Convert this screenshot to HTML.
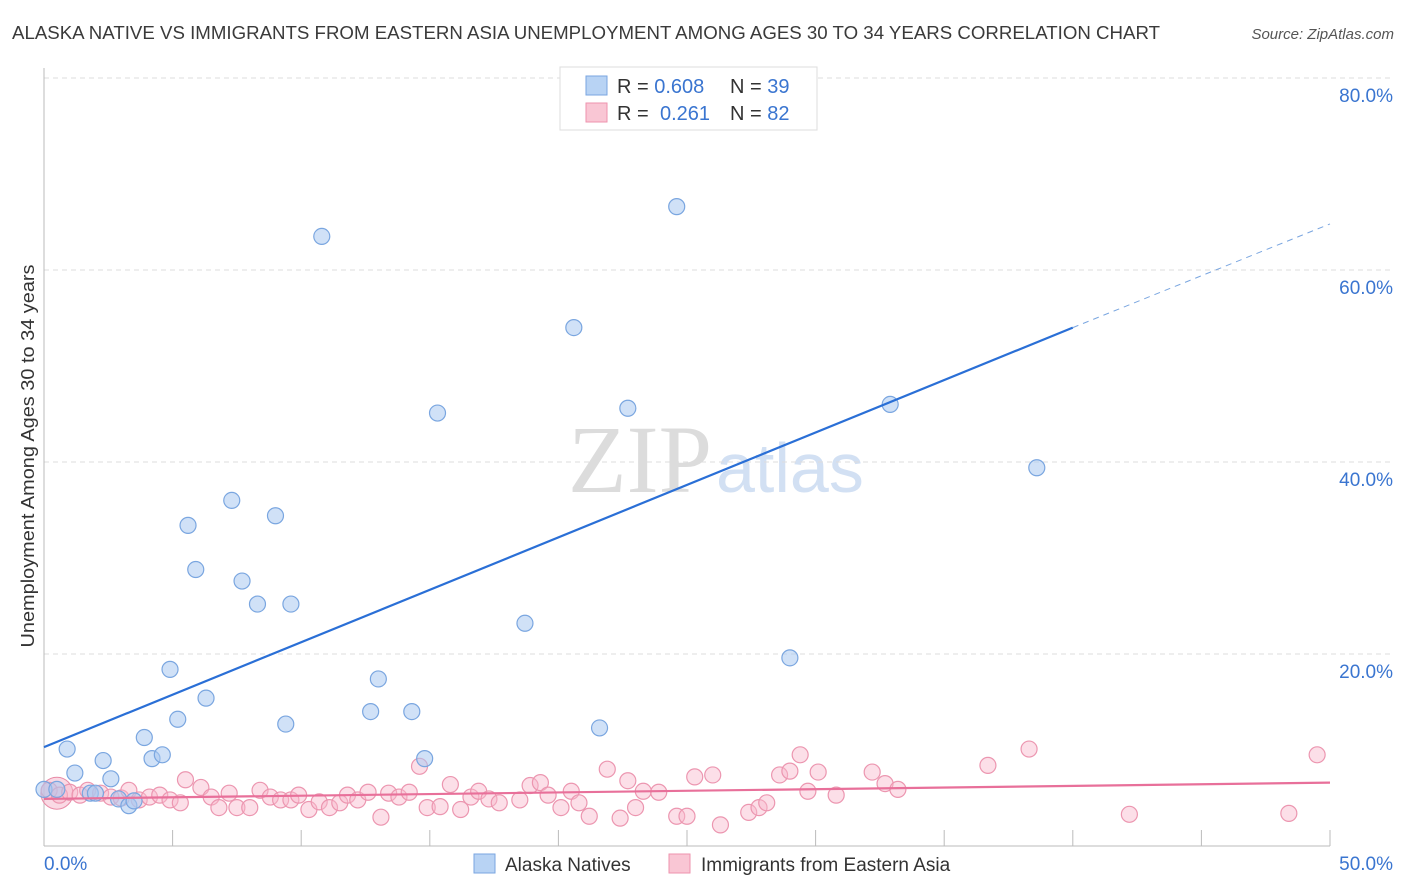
<!DOCTYPE html>
<html><head><meta charset="utf-8"><style>
body{margin:0;background:#fff;font-family:"Liberation Sans",sans-serif;}
svg{display:block}
</style></head><body>
<svg id="chart" width="1406" height="892">
<text x="12" y="39" font-size="18" fill="#3a3a3a" textLength="1148" lengthAdjust="spacingAndGlyphs">ALASKA NATIVE VS IMMIGRANTS FROM EASTERN ASIA UNEMPLOYMENT AMONG AGES 30 TO 34 YEARS CORRELATION CHART</text>
<text x="1394" y="39" font-size="15" fill="#555" font-style="italic" text-anchor="end">Source: ZipAtlas.com</text>
<text x="712" y="492" font-size="96" font-family="Liberation Serif,serif" fill="#dcdcdc" text-anchor="end">ZIP</text>
<text x="716" y="492" font-size="70" fill="#d2e0f3">atlas</text>
<text transform="translate(34,456) rotate(-90)" font-size="18" fill="#333" text-anchor="middle" textLength="383" lengthAdjust="spacingAndGlyphs">Unemployment Among Ages 30 to 34 years</text>
<g id="grid"></g><g id="marks"></g>
<g>
<rect x="560" y="67" width="257" height="63" fill="#fff" stroke="#ddd"/>
<rect x="586" y="76" width="21" height="19" fill="#b8d3f4" stroke="#7aa6e0"/>
<rect x="586" y="103" width="21" height="19" fill="#f9c6d4" stroke="#ee93ae"/>
<text x="617" y="93" font-size="20" fill="#333">R = <tspan fill="#3a75d0">0.608</tspan><tspan x="730">N = </tspan><tspan fill="#3a75d0">39</tspan></text>
<text x="617" y="120" font-size="20" fill="#333">R = <tspan x="660" fill="#3a75d0">0.261</tspan><tspan x="730">N = </tspan><tspan fill="#3a75d0">82</tspan></text>
</g>
<g>
<rect x="474" y="854" width="21" height="19" fill="#b8d3f4" stroke="#7aa6e0"/>
<text x="505" y="871" font-size="19" fill="#333">Alaska Natives</text>
<rect x="669" y="854" width="21" height="19" fill="#f9c6d4" stroke="#ee93ae"/>
<text x="701" y="871" font-size="19" fill="#333">Immigrants from Eastern Asia</text>
</g>
</svg>
<script>
const blueX=[0,0.5,0.9,1.2,1.8,2.0,2.3,2.6,2.9,3.3,3.5,3.9,4.2,4.6,4.9,5.2,5.6,5.9,6.3,7.3,7.7,8.3,9.0,9.4,9.6,10.8,12.7,13.0,14.3,14.8,15.3,18.7,20.6,21.6,22.7,24.6,29.0,32.9,38.6];
const blueY=[5.9,5.9,10.1,7.6,5.5,5.5,8.9,7.0,4.9,4.2,4.7,11.3,9.1,9.5,18.4,13.2,33.4,28.8,15.4,36.0,27.6,25.2,34.4,12.7,25.2,63.5,14.0,17.4,14.0,9.1,45.1,23.2,54.0,12.3,45.6,66.6,19.6,46.0,39.4];
const pinkX=[0.2,0.6,1.0,1.4,1.7,2.2,2.6,3.0,3.3,3.7,4.1,4.5,4.9,5.3,5.5,6.1,6.5,6.8,7.2,7.5,8.0,8.4,8.8,9.2,9.6,9.9,10.3,10.7,11.1,11.5,11.8,12.2,12.6,13.1,13.4,13.8,14.2,14.6,14.9,15.4,15.8,16.2,16.6,16.9,17.3,17.7,18.5,18.9,19.3,19.6,20.1,20.5,20.8,21.2,21.9,22.4,22.7,23.0,23.3,23.9,24.6,25.0,25.3,26.0,26.3,27.4,27.8,28.1,28.6,29.0,29.4,29.7,30.1,30.8,32.2,32.7,33.2,36.7,38.3,42.2,48.4,49.5];
const pinkY=[5.8,5.3,5.6,5.3,5.8,5.5,5.1,5.0,5.8,4.8,5.1,5.3,4.8,4.5,6.9,6.1,5.1,4.0,5.5,4.0,4.0,5.8,5.1,4.8,4.8,5.3,3.8,4.6,4.0,4.5,5.3,4.8,5.6,3.0,5.5,5.1,5.6,8.3,4.0,4.1,6.4,3.8,5.1,5.7,4.9,4.5,4.8,6.3,6.6,5.3,4.0,5.7,4.5,3.1,8.0,2.9,6.8,4.0,5.7,5.6,3.1,3.1,7.2,7.4,2.2,3.5,4.0,4.5,7.4,7.8,9.5,5.7,7.7,5.3,7.7,6.5,5.9,8.4,10.1,3.3,3.4,9.5];
const yTicks=[20,40,60,80];
const xTickLabels=["0.0%","50.0%"];
const blueLine=[10.3,54.0,64.8];
const pinkLine=[4.9,6.6];

const X=v=>44+v*25.72, Y=v=>846-v*9.6;
const NS="http://www.w3.org/2000/svg";
const grid=document.getElementById('grid'), marks=document.getElementById('marks');
function mk(p,tag,a){const e=document.createElementNS(NS,tag);for(const k in a)e.setAttribute(k,a[k]);p.appendChild(e);return e;}
yTicks.forEach(t=>{
 const l=mk(grid,'line',{x1:44,x2:1394,y1:Y(t),y2:Y(t),stroke:'#ddd','stroke-dasharray':'5,4'});
 
 
 const tx=mk(grid,'text',{x:1393,y:Y(t)+24,'font-size':19,fill:'#3a75d0','text-anchor':'end'});
 tx.textContent=t.toFixed(1)+'%';
 
 
});
mk(grid,'line',{x1:44,x2:44,y1:68,y2:846,stroke:'#bbb'});
mk(grid,'line',{x1:44,x2:1330,y1:846,y2:846,stroke:'#bbb'});
for(let i=1;i<=10;i++){const tk=mk(grid,'line',{x1:X(i*5),x2:X(i*5),y1:830,y2:846,stroke:'#bbb'});
 
 }
const xl0=mk(grid,'text',{x:44,y:870,'font-size':19,fill:'#3a75d0'});xl0.textContent=xTickLabels[0];


const xl1=mk(grid,'text',{x:1393,y:870,'font-size':19,fill:'#3a75d0','text-anchor':'end'});xl1.textContent=xTickLabels[1];



const big=mk(marks,'circle',{cx:X(0.5),cy:Y(5.5),r:16,fill:'rgba(245,170,195,0.45)',stroke:'#e88aa6'});


pinkX.forEach((x,i)=>{const c=mk(marks,'circle',{cx:X(x),cy:Y(pinkY[i]),r:8,fill:'rgba(248,185,205,0.45)',stroke:'#ec96b0','stroke-width':1.2});
 
 });
blueX.forEach((x,i)=>{const c=mk(marks,'circle',{cx:X(x),cy:Y(blueY[i]),r:8,fill:'rgba(170,200,240,0.55)',stroke:'#7aa6e0','stroke-width':1.2});
 
 });
const bl=mk(marks,'line',{x1:X(0),y1:Y(blueLine[0]),x2:X(40),y2:Y(blueLine[1]),stroke:'#2a6fd6','stroke-width':2.2});


const bd=mk(marks,'line',{x1:X(40),y1:Y(blueLine[1]),x2:X(50),y2:Y(blueLine[2]),stroke:'#7aa6e0','stroke-width':1,'stroke-dasharray':'6,5'});


const pl=mk(marks,'line',{x1:X(0),y1:Y(pinkLine[0]),x2:X(50),y2:Y(pinkLine[1]),stroke:'#e8709a','stroke-width':2.2});


</script>
</body></html>
